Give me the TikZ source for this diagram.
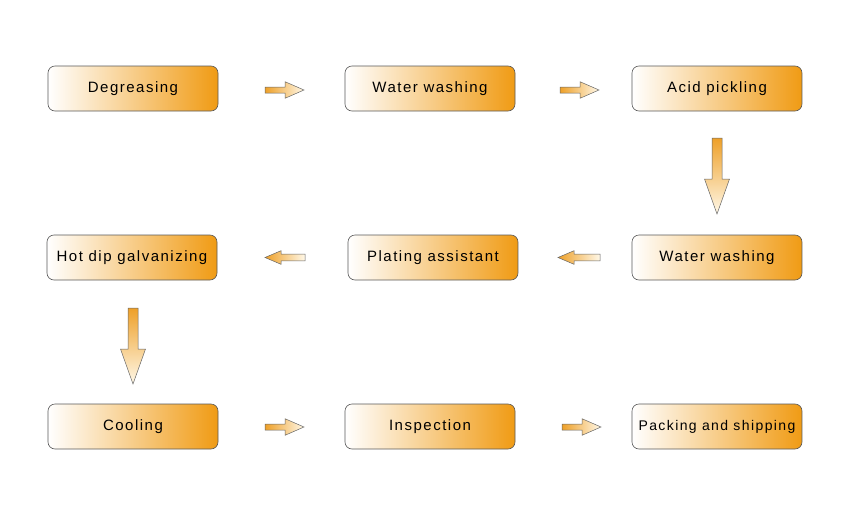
\documentclass[tikz,border=0pt]{standalone}
\usepackage{fontspec}
\setmainfont[LetterSpace=10]{Liberation Sans}
\definecolor{myor}{RGB}{240,155,20}
\definecolor{arrowor}{RGB}{238,160,40}
\definecolor{arrowpale}{RGB}{255,248,232}
\tikzset{
  stepbox/.style={rounded corners=7pt, draw=black!65, line width=0.6pt,
    left color=white, right color=myor, minimum width=170pt, minimum height=45pt,
    inner sep=0pt, font=\fontsize{15}{17}\selectfont, text=black},
  blockarrow/.style={draw=black!60, line width=0.5pt},
  harr/.style={blockarrow, left color=arrowor, right color=arrowpale},
  varr/.style={blockarrow, top color=arrowor, bottom color=arrowpale}
}
\newcommand{\rarrow}[3]{% tail x, tip x, center y
  \path[harr] (#1,#3-3) -- (#2-19,#3-3) -- (#2-19,#3-8.3) -- (#2,#3) -- (#2-19,#3+8.3) -- (#2-19,#3+3) -- (#1,#3+3) -- cycle;}
\newcommand{\larrow}[3]{% tip x, tail x, center y
  \path[harr] (#2,#3-3.3) -- (#1+16,#3-3.3) -- (#1+16,#3-6.8) -- (#1,#3) -- (#1+16,#3+6.8) -- (#1+16,#3+3.3) -- (#2,#3+3.3) -- cycle;}
\newcommand{\darrow}[4]{% center x, top y, head start y, tip y
  \path[varr] (#1-5,#2) -- (#1+5,#2) -- (#1+5,#3) -- (#1+12.5,#3) -- (#1,#4) -- (#1-12.5,#3) -- (#1-5,#3) -- cycle;}
\begin{document}
\begin{tikzpicture}[x=1pt,y=-1pt]
\useasboundingbox (0,0) rectangle (847,525);
\node[stepbox] (b1) at (133,88.5) {Degreasing};
\node[stepbox] (b2) at (430,88.5) {Water washing};
\node[stepbox] (b3) at (717,88.5) {Acid pickling};
\node[stepbox] (b4) at (717,257.5) {Water washing};
\node[stepbox] (b5) at (433,257.5) {Plating assistant};
\node[stepbox] (b6) at (132,257.5) {Hot dip galvanizing};
\node[stepbox] (b7) at (133,426.5) {Cooling};
\node[stepbox] (b8) at (430,426.5) {Inspection};
\node[stepbox, font=\fontsize{14}{16}\selectfont] (b9) at (717,426.5) {Packing and shipping};
\rarrow{265}{304}{90}
\rarrow{560}{599}{90}
\darrow{717}{138}{179}{214}
\larrow{265}{305}{257.5}
\larrow{558}{600}{257.5}
\darrow{133}{308}{349}{384}
\rarrow{265}{304}{427}
\rarrow{562}{601}{427}
\end{tikzpicture}
\end{document}
